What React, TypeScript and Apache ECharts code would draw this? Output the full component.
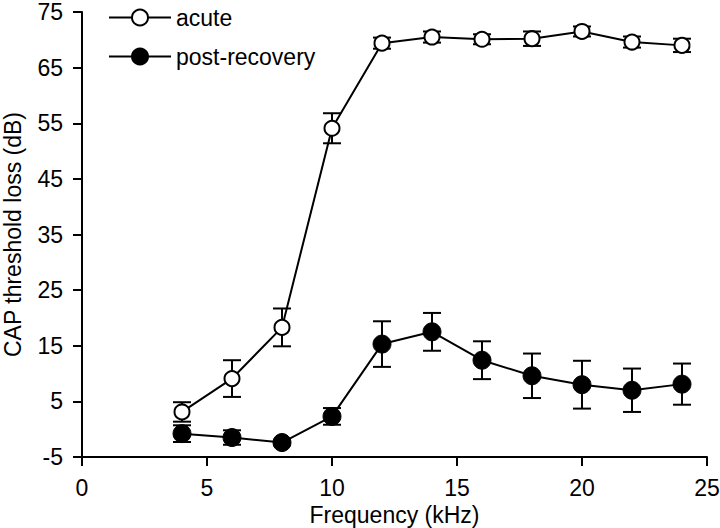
import React, { useEffect, useRef } from "react";
import * as echarts from "echarts";

const freqs = [4, 6, 8, 10, 12, 14, 16, 18, 20, 22, 24];
const acute = [3.1, 9.1, 18.3, 54.1, 69.4, 70.5, 70.1, 70.2, 71.5, 69.6, 69.0];
const acuteErr = [1.75, 3.3, 3.4, 2.7, 1.0, 1.0, 0.9, 1.3, 0.9, 1.0, 1.2];
const post = [-0.8, -1.5, -2.4, 2.3, 15.3, 17.5, 12.4, 9.6, 8.0, 7.0, 8.1];
const postErr = [1.5, 1.3, 0.5, 1.5, 4.1, 3.4, 3.4, 4.0, 4.3, 3.9, 3.7];

const FONT = "'Liberation Sans', Arial, Helvetica, sans-serif";
const FS = 23;

function errRender(params: any, api: any) {
  const x = api.value(0);
  const lo = api.coord([x, api.value(1)]);
  const hi = api.coord([x, api.value(2)]);
  const hw = 9;
  const style = { stroke: "#000", lineWidth: 2 };
  return {
    type: "group",
    children: [
      { type: "line", shape: { x1: lo[0], y1: lo[1], x2: hi[0], y2: hi[1] }, style },
      { type: "line", shape: { x1: lo[0] - hw, y1: lo[1], x2: lo[0] + hw, y2: lo[1] }, style },
      { type: "line", shape: { x1: hi[0] - hw, y1: hi[1], x2: hi[0] + hw, y2: hi[1] }, style },
    ],
  };
}

export default function App() {
  const ref = useRef<HTMLDivElement>(null);
  useEffect(() => {
    if (!ref.current) return;
    const chart = echarts.init(ref.current, undefined, { renderer: "svg" });
    const axisCommon = {
      axisLine: { show: true, onZero: false, lineStyle: { color: "#000", width: 2 } },
      axisTick: { show: true, inside: false, length: 9, lineStyle: { color: "#000", width: 2 } },
      splitLine: { show: false },
      nameMoveOverlap: false,
      nameTextStyle: { color: "#000", fontSize: FS, fontFamily: FONT },
    };
    chart.setOption({
      animation: false,
      backgroundColor: "#fff",
      grid: {
        left: 82,
        right: 13,
        top: 12,
        bottom: 71,
        containLabel: false,
        outerBoundsMode: "none",
      },
      legend: {
        data: ["acute", "post-recovery"],
        orient: "vertical",
        left: 103,
        top: 1,
        itemWidth: 62,
        itemHeight: 20,
        itemGap: 16,
        textStyle: { color: "#000", fontSize: FS, fontFamily: FONT },
      },
      xAxis: {
        type: "value",
        min: 0,
        max: 25,
        interval: 5,
        name: "Frequency (kHz)",
        nameLocation: "middle",
        nameGap: 46,
        ...axisCommon,
        axisLabel: { color: "#000", fontSize: FS, fontFamily: FONT, margin: 19 },
      },
      yAxis: {
        type: "value",
        min: -5,
        max: 75,
        interval: 10,
        name: "CAP threshold loss (dB)",
        nameLocation: "middle",
        nameGap: 58,
        ...axisCommon,
        axisLabel: { color: "#000", fontSize: FS, fontFamily: FONT, margin: 19 },
      },
      series: [
        {
          name: "acuteErr",
          type: "custom",
          renderItem: errRender,
          encode: { x: 0, y: [1, 2] },
          data: freqs.map((f, i) => [f, acute[i] - acuteErr[i], acute[i] + acuteErr[i]]),
          z: 1,
        },
        {
          name: "postErr",
          type: "custom",
          renderItem: errRender,
          encode: { x: 0, y: [1, 2] },
          data: freqs.map((f, i) => [f, post[i] - postErr[i], post[i] + postErr[i]]),
          z: 1,
        },
        {
          name: "acute",
          type: "line",
          data: freqs.map((f, i) => [f, acute[i]]),
          symbol: "circle",
          symbolSize: 15,
          itemStyle: { color: "#fff", borderColor: "#000", borderWidth: 2 },
          lineStyle: { color: "#000", width: 2 },
          z: 3,
        },
        {
          name: "post-recovery",
          type: "line",
          data: freqs.map((f, i) => [f, post[i]]),
          symbol: "circle",
          symbolSize: 18,
          itemStyle: { color: "#000", borderColor: "#000", borderWidth: 1 },
          lineStyle: { color: "#000", width: 2 },
          z: 3,
        },
      ],
    });
    return () => chart.dispose();
  }, []);
  return (
    <div
      ref={ref}
      style={{ position: "fixed", left: 0, top: 0, width: 720, height: 528, background: "#fff" }}
    />
  );
}
